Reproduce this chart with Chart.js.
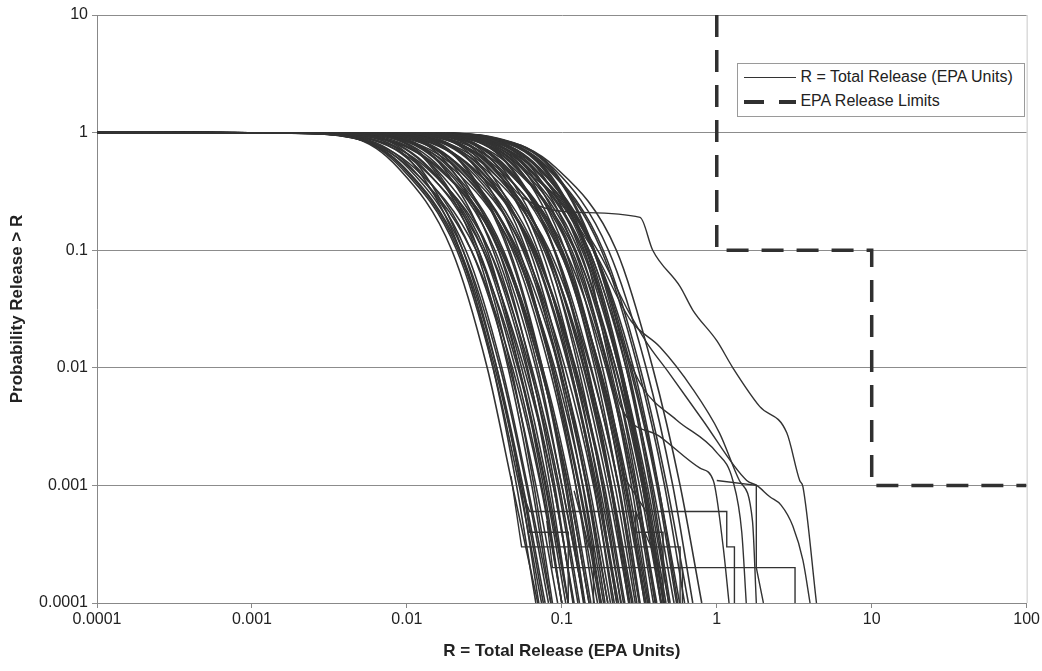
<!DOCTYPE html>
<html lang="en">
<head>
<meta charset="UTF-8">
<title>Probability Release > R</title>
<script src="https://cdn.jsdelivr.net/npm/chart.js"></script>
<style>
  body { margin: 0; background: #fff; }
  .wrap { position: relative; width: 1042px; height: 671px; }
  .legend {
    position: absolute; left: 737px; top: 63px; width: 286px; height: 52px;
    border: 1px solid #9a9a9a; background: #fff;
    font-family: 'Liberation Sans', Arial, sans-serif; font-size: 16px; color: #222;
  }
  .legend div { position: absolute; left: 6px; height: 20px; line-height: 20px; white-space: nowrap; }
  .legend span { display: inline-block; vertical-align: middle; }
</style>
</head>
<body>
<div class="wrap">
  <canvas id="ccdf"></canvas>
  <div class="legend" id="legend"></div>
</div>
<script>
// axis ticks
const xTickValues = [0.0001, 0.001, 0.01, 0.1, 1, 10, 100];
const xTickLabels = ['0.0001', '0.001', '0.01', '0.1', '1', '10', '100'];
const yTickValues = [0.0001, 0.001, 0.01, 0.1, 1, 10];
const yTickLabels = ['0.0001', '0.001', '0.01', '0.1', '1', '10'];

const seriesNames = ['R = Total Release (EPA Units)', 'EPA Release Limits'];

// every CCDF starts at P = 1 on the left edge
const startRelease = 0.0001;
// probability levels, and for each curve the release read at that level
const probLevels = [0.99, 0.9, 0.5, 0.1, 0.01, 0.001, 0.0001];
const releaseCurves = [
  [0.0017, 0.0045, 0.0088, 0.0195, 0.033, 0.048, 0.07],
  [0.0018, 0.0046, 0.0092, 0.021, 0.036, 0.053, 0.074],
  [0.0019, 0.0046, 0.0095, 0.0215, 0.037, 0.055, 0.076],
  [0.0019, 0.0047, 0.0097, 0.022, 0.038, 0.056, 0.078],
  [0.002, 0.0049, 0.0102, 0.023, 0.04, 0.059, 0.082],
  [0.0017, 0.0045, 0.0105, 0.026, 0.048, 0.073, 0.1],
  [0.0021, 0.0051, 0.0107, 0.024, 0.041, 0.06, 0.085],
  [0.0018, 0.0047, 0.0112, 0.028, 0.052, 0.078, 0.106],
  [0.003, 0.0063, 0.0115, 0.022, 0.036, 0.051, 0.068],
  [0.0023, 0.0056, 0.0117, 0.026, 0.046, 0.068, 0.094],
  [0.0032, 0.0067, 0.0122, 0.023, 0.038, 0.054, 0.071],
  [0.002, 0.0053, 0.0125, 0.031, 0.057, 0.088, 0.119],
  [0.0026, 0.0061, 0.0128, 0.029, 0.05, 0.074, 0.1],
  [0.0021, 0.0056, 0.0134, 0.034, 0.062, 0.094, 0.127],
  [0.0027, 0.0066, 0.0137, 0.031, 0.053, 0.079, 0.11],
  [0.0028, 0.0067, 0.014, 0.032, 0.055, 0.081, 0.11],
  [0.0038, 0.008, 0.0146, 0.028, 0.045, 0.064, 0.085],
  [0.0039, 0.0083, 0.015, 0.029, 0.047, 0.066, 0.087],
  [0.003, 0.0073, 0.0152, 0.034, 0.059, 0.088, 0.12],
  [0.0025, 0.0066, 0.0158, 0.04, 0.073, 0.11, 0.15],
  [0.0026, 0.0068, 0.0162, 0.041, 0.075, 0.113, 0.154],
  [0.0033, 0.0079, 0.0165, 0.037, 0.064, 0.096, 0.13],
  [0.0045, 0.0095, 0.0172, 0.033, 0.053, 0.076, 0.1],
  [0.0035, 0.0084, 0.0175, 0.039, 0.068, 0.1, 0.14],
  [0.0036, 0.0086, 0.018, 0.041, 0.07, 0.1, 0.14],
  [0.0038, 0.009, 0.0188, 0.042, 0.073, 0.11, 0.15],
  [0.005, 0.0106, 0.0192, 0.036, 0.06, 0.084, 0.11],
  [0.0031, 0.0082, 0.0196, 0.049, 0.09, 0.137, 0.186],
  [0.0053, 0.0112, 0.0204, 0.039, 0.063, 0.09, 0.118],
  [0.0033, 0.0087, 0.0208, 0.052, 0.096, 0.146, 0.198],
  [0.0042, 0.0102, 0.0212, 0.048, 0.083, 0.123, 0.17],
  [0.0044, 0.0106, 0.022, 0.05, 0.086, 0.128, 0.176],
  [0.0045, 0.0108, 0.0225, 0.051, 0.088, 0.13, 0.18],
  [0.0037, 0.0096, 0.0229, 0.057, 0.105, 0.16, 0.218],
  [0.0062, 0.0131, 0.0238, 0.045, 0.074, 0.105, 0.138],
  [0.0063, 0.0134, 0.0243, 0.046, 0.075, 0.107, 0.141],
  [0.005, 0.0119, 0.0248, 0.056, 0.097, 0.144, 0.198],
  [0.0052, 0.0124, 0.0258, 0.058, 0.1, 0.15, 0.206],
  [0.0042, 0.011, 0.0263, 0.066, 0.121, 0.184, 0.25],
  [0.0043, 0.0113, 0.0268, 0.067, 0.123, 0.188, 0.255],
  [0.0073, 0.0153, 0.0279, 0.053, 0.086, 0.123, 0.162],
  [0.0057, 0.0136, 0.0284, 0.064, 0.111, 0.165, 0.227],
  [0.0058, 0.0139, 0.029, 0.065, 0.113, 0.168, 0.232],
  [0.006, 0.0145, 0.0302, 0.068, 0.118, 0.175, 0.242],
  [0.008, 0.017, 0.0308, 0.059, 0.095, 0.136, 0.179],
  [0.005, 0.0132, 0.0314, 0.079, 0.144, 0.22, 0.298],
  [0.0085, 0.018, 0.0327, 0.062, 0.101, 0.144, 0.19],
  [0.0053, 0.014, 0.0333, 0.083, 0.153, 0.233, 0.316],
  [0.0068, 0.0163, 0.034, 0.077, 0.133, 0.197, 0.272],
  [0.0071, 0.017, 0.0354, 0.08, 0.138, 0.205, 0.283],
  [0.0072, 0.0173, 0.036, 0.081, 0.14, 0.209, 0.288],
  [0.0096, 0.0202, 0.0368, 0.07, 0.114, 0.162, 0.213],
  [0.0061, 0.0161, 0.0383, 0.096, 0.176, 0.268, 0.364],
  [0.0101, 0.0215, 0.039, 0.074, 0.121, 0.172, 0.226],
  [0.008, 0.0191, 0.0398, 0.09, 0.155, 0.231, 0.318],
  [0.0108, 0.0228, 0.0414, 0.079, 0.128, 0.182, 0.24],
  [0.0067, 0.0176, 0.042, 0.105, 0.193, 0.29, 0.39],
  [0.0086, 0.0206, 0.043, 0.097, 0.168, 0.249, 0.344],
  [0.0088, 0.0211, 0.044, 0.099, 0.172, 0.255, 0.35],
  [0.009, 0.0215, 0.0448, 0.101, 0.175, 0.26, 0.358],
  [0.0121, 0.0256, 0.0466, 0.089, 0.144, 0.205, 0.27],
  [0.0112, 0.024, 0.0475, 0.09, 0.147, 0.209, 0.275],
  [0.0078, 0.0204, 0.0485, 0.121, 0.223, 0.34, 0.46],
  [0.0101, 0.0242, 0.0504, 0.113, 0.197, 0.292, 0.403],
  [0.0103, 0.0247, 0.0515, 0.116, 0.201, 0.299, 0.41],
  [0.0095, 0.023, 0.0525, 0.1, 0.163, 0.231, 0.305],
  [0.0109, 0.0262, 0.0546, 0.123, 0.213, 0.317, 0.437],
  [0.0104, 0.025, 0.0555, 0.105, 0.172, 0.244, 0.32],
  [0.0114, 0.0273, 0.0568, 0.128, 0.222, 0.33, 0.454],
  [0.0105, 0.026, 0.059, 0.112, 0.183, 0.26, 0.342],
  [0.012, 0.0288, 0.06, 0.135, 0.234, 0.348, 0.47],
  [0.0123, 0.0295, 0.0614, 0.138, 0.24, 0.356, 0.49],
  [0.011, 0.028, 0.0639, 0.121, 0.198, 0.281, 0.37],
  [0.0105, 0.027, 0.065, 0.16, 0.29, 0.42, 0.56],
  [0.0133, 0.0319, 0.0665, 0.15, 0.26, 0.386, 0.53],
  [0.0118, 0.03, 0.0692, 0.131, 0.215, 0.304, 0.4],
  [0.013, 0.032, 0.0705, 0.159, 0.275, 0.41, 0.55],
  [0.0135, 0.033, 0.072, 0.162, 0.281, 0.418, 0.576],
  [0.013, 0.032, 0.075, 0.143, 0.233, 0.33, 0.435],
  [0.0132, 0.032, 0.0765, 0.145, 0.237, 0.336, 0.44],
  [0.013, 0.033, 0.078, 0.148, 0.242, 0.343, 0.452],
  [0.014, 0.035, 0.08, 0.18, 0.31, 0.46, 0.62],
  [0.014, 0.036, 0.082, 0.185, 0.32, 0.476, 0.656],
  [0.014, 0.035, 0.084, 0.16, 0.26, 0.37, 0.49],
  [0.0145, 0.036, 0.086, 0.163, 0.267, 0.378, 0.5],
  [0.0148, 0.037, 0.088, 0.2, 0.35, 0.52, 0.7],
  [0.015, 0.038, 0.092, 0.225, 0.386, 0.58, 0.8]
];

// curves that leave the bundle on the right: [release, probability]
const stragglerCurves = [
  [[0.0001, 1], [0.012, 0.99], [0.03, 0.9], [0.07, 0.5], [0.17, 0.1], [0.27, 0.03], [0.353, 0.0164], [0.49, 0.0091],
   [0.81, 0.0036], [1.56, 0.0011], [1.81, 0.001], [2.2, 0.0008], [2.6, 0.00068], [3.1, 0.00045], [3.6, 0.00023], [4.0, 0.0001]],
  [[0.0001, 1], [0.011, 0.99], [0.028, 0.9], [0.065, 0.5], [0.16, 0.1], [0.28, 0.025], [0.43, 0.015], [0.7, 0.0066],
   [1.04, 0.0028], [1.4, 0.0011], [1.7, 0.0005], [1.8, 0.0001]],
  [[0.0001, 1], [0.01, 0.99], [0.026, 0.9], [0.06, 0.5], [0.15, 0.1], [0.23, 0.02], [0.33, 0.0069], [0.55, 0.0036],
   [1.0, 0.0019], [1.27, 0.0011], [1.45, 0.0004], [1.55, 0.0001]],
  [[0.0001, 1], [0.009, 0.99], [0.024, 0.9], [0.055, 0.5], [0.14, 0.1], [0.2, 0.012], [0.24, 0.0047], [0.43, 0.0026],
   [0.78, 0.0014], [0.95, 0.0011], [1.1, 0.0003], [1.2, 0.0001]],
  // the one far to the right
  [[0.0001, 1], [0.008, 0.99], [0.02, 0.9], [0.04, 0.45], [0.056, 0.28], [0.125, 0.21], [0.32, 0.19], [0.386, 0.1],
   [0.58, 0.049], [0.7, 0.031], [1.0, 0.017], [1.27, 0.01], [1.89, 0.0047], [2.83, 0.0028], [3.43, 0.0011],
   [3.6, 0.00097], [4.4, 0.0001]]
];

// stepped tails of the sampled curves at the lowest probabilities
const tailSteps = [
  [[0.047, 0.0012], [0.055, 0.0003], [0.16, 0.0003], [0.16, 0.0001]],
  [[0.055, 0.0009], [0.062, 0.0006], [0.3, 0.0006], [0.3, 0.0004], [0.45, 0.0004], [0.45, 0.0001]],
  [[0.058, 0.0008], [0.062, 0.0004], [0.11, 0.0004], [0.11, 0.0001]],
  [[0.08, 0.0005], [0.087, 0.0002], [0.6, 0.0002], [0.6, 0.0001]],
  [[0.12, 0.0009], [0.15, 0.0003], [0.58, 0.0003], [0.58, 0.0001]],
  [[0.25, 0.0012], [0.35, 0.0006], [1.16, 0.0006], [1.16, 0.0003], [1.3, 0.0003], [1.3, 0.0001]],
  [[0.3, 0.0006], [0.43, 0.0002], [3.2, 0.0002], [3.2, 0.0001]],
  [[1.0, 0.0011], [1.8, 0.001], [1.8, 0.0002], [2.0, 0.0001]]
];

// EPA release limits (step)
const epaLimitX = [1, 1, 10, 10, 100];
const epaLimitY = [10, 0.1, 0.1, 0.001, 0.001];

const curveColor = '#333333';
const curveWidth = 1.6;
const datasets = [];

releaseCurves.forEach(xs => {
  const pts = [{x: startRelease, y: 1}];
  xs.forEach((x, i) => pts.push({x: x, y: probLevels[i]}));
  datasets.push({label: seriesNames[0], data: pts, borderColor: curveColor, borderWidth: curveWidth,
    cubicInterpolationMode: 'monotone'});
});
stragglerCurves.forEach(c => {
  datasets.push({label: seriesNames[0], data: c.map(p => ({x: p[0], y: p[1]})), borderColor: curveColor,
    borderWidth: 1.4, cubicInterpolationMode: 'monotone'});
});
tailSteps.forEach(c => {
  datasets.push({label: seriesNames[0], data: c.map(p => ({x: p[0], y: p[1]})), borderColor: curveColor,
    borderWidth: 1.4, tension: 0});
});
datasets.push({
  label: seriesNames[1],
  data: epaLimitX.map((x, i) => ({x: x, y: epaLimitY[i]})),
  borderColor: '#303030', borderWidth: 3.5, borderDash: [22, 13], tension: 0
});

// thin frame on the right of the plot
const framePlugin = {
  id: 'frame',
  afterDraw(chart) {
    const {ctx, chartArea: a} = chart;
    ctx.save();
    ctx.strokeStyle = '#c8c8c8';
    ctx.lineWidth = 1;
    ctx.beginPath();
    ctx.moveTo(a.right + 0.5, a.top);
    ctx.lineTo(a.right + 0.5, a.bottom);
    ctx.stroke();
    ctx.restore();
  }
};

const tickFont = {family: "'Liberation Sans', Arial, sans-serif", size: 16};
const titleFont = {family: "'Liberation Sans', Arial, sans-serif", size: 17, weight: 'bold'};

new Chart(document.getElementById('ccdf'), {
  type: 'scatter',
  data: {datasets: datasets},
  options: {
    responsive: true,
    maintainAspectRatio: false,
    animation: false,
    showLine: true,
    elements: {point: {radius: 0, hoverRadius: 0}},
    layout: {padding: {top: 15, right: 15, left: 0, bottom: 0}},
    plugins: {legend: {display: false}, tooltip: {enabled: false}},
    scales: {
      x: {
        type: 'logarithmic', min: 0.0001, max: 100,
        afterBuildTicks: s => { s.ticks = xTickValues.map(v => ({value: v})); },
        afterFit: s => { s.height = 68; },
        ticks: {font: tickFont, color: '#222', padding: 2, maxRotation: 0,
          callback: v => xTickLabels[xTickValues.indexOf(v)]},
        grid: {drawOnChartArea: false, tickLength: 5, color: '#888'},
        border: {color: '#888'},
        title: {display: true, text: seriesNames[0], font: titleFont, color: '#222',
          padding: {top: 0, bottom: 9}}
      },
      y: {
        type: 'logarithmic', min: 0.0001, max: 10,
        afterBuildTicks: s => { s.ticks = yTickValues.map(v => ({value: v})); },
        afterFit: s => { s.width = 97; },
        ticks: {font: tickFont, color: '#222', padding: 4,
          callback: v => yTickLabels[yTickValues.indexOf(v)]},
        grid: {tickLength: 5, color: '#8c8c8c'},
        border: {color: '#888'},
        title: {display: true, text: 'Probability Release > R', font: titleFont, color: '#222',
          padding: {top: 7, bottom: 0}}
      }
    }
  },
  plugins: [framePlugin]
});

// legend box inside the plot
const legend = document.getElementById('legend');
legend.innerHTML =
  '<div style="top:3px"><span style="width:52px;border-top:1px solid #333"></span> ' + seriesNames[0] + '</div>' +
  '<div style="top:27px"><span style="width:20px;border-top:4px solid #303030"></span>' +
  '<span style="width:15px"></span><span style="width:17px;border-top:4px solid #303030"></span> ' + seriesNames[1] + '</div>';
</script>
</body>
</html>
